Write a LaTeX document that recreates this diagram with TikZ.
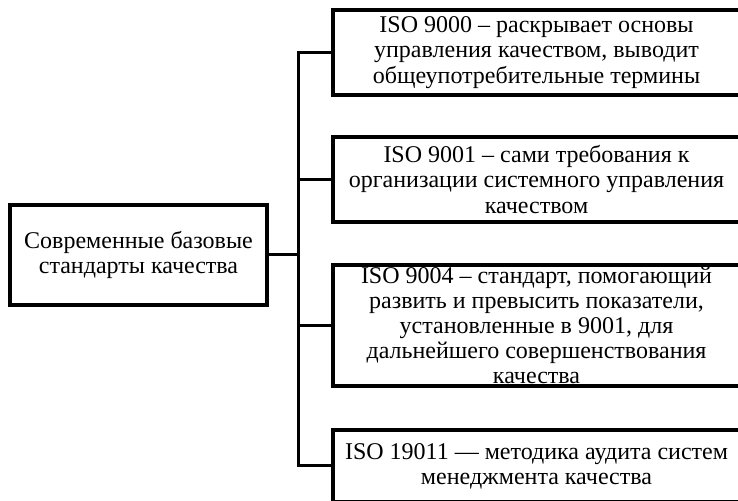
\documentclass[tikz,border=0pt]{standalone}
\usepackage{fontspec}
\setmainfont{Liberation Serif}
\usepackage{tikz}

\begin{document}
\begin{tikzpicture}[x=0.5pt, y=-0.5pt,
          box/.style={rectangle, draw=black, line width=1.8pt, fill=white,
                      font=\fontsize{12}{12.6}\selectfont, align=center,
                      inner sep=0pt},
          conn/.style={draw=black, line width=1.5pt}
        ]
        \useasboundingbox (0,0) rectangle (738,501);
        \clip (0,0) rectangle (738,501);

        \node[box, minimum width=128.5pt, minimum height=50pt] (src) at (138.5,255)
          {Современные базовые\\стандарты качества};

        \node[box, minimum width=203.5pt, minimum height=42.5pt] (b1) at (536.5,52.5)
          {ISO 9000 – раскрывает основы\\управления качеством, выводит\\общеупотребительные термины};
        \node[box, minimum width=203.5pt, minimum height=42.5pt] (b2) at (536.5,179.5)
          {ISO 9001 – сами требования к\\организации системного управления\\качеством};
        \node[box, minimum width=203.5pt, minimum height=60.5pt] (b3) at (536.5,325.5)
          {ISO 9004 – стандарт, помогающий\\развить и превысить показатели,\\установленные в 9001, для\\дальнейшего совершенствования\\качества};
        \node[box, minimum width=203.5pt, minimum height=36pt] (b4) at (536.5,466)
          {ISO 19011 — методика аудита систем\\менеджмента качества};

        \coordinate (trunk) at (298,0);

        \draw[conn] (b1.west) -- (b1.west -| trunk) -- (b4.west -| trunk) -- (b4.west);
        \draw[conn] (b2.west) -- (b2.west -| trunk);
        \draw[conn] (b3.west) -- (b3.west -| trunk);
        \draw[conn] (src.east) -- (src.east -| trunk);
      \end{tikzpicture}
\end{document}
